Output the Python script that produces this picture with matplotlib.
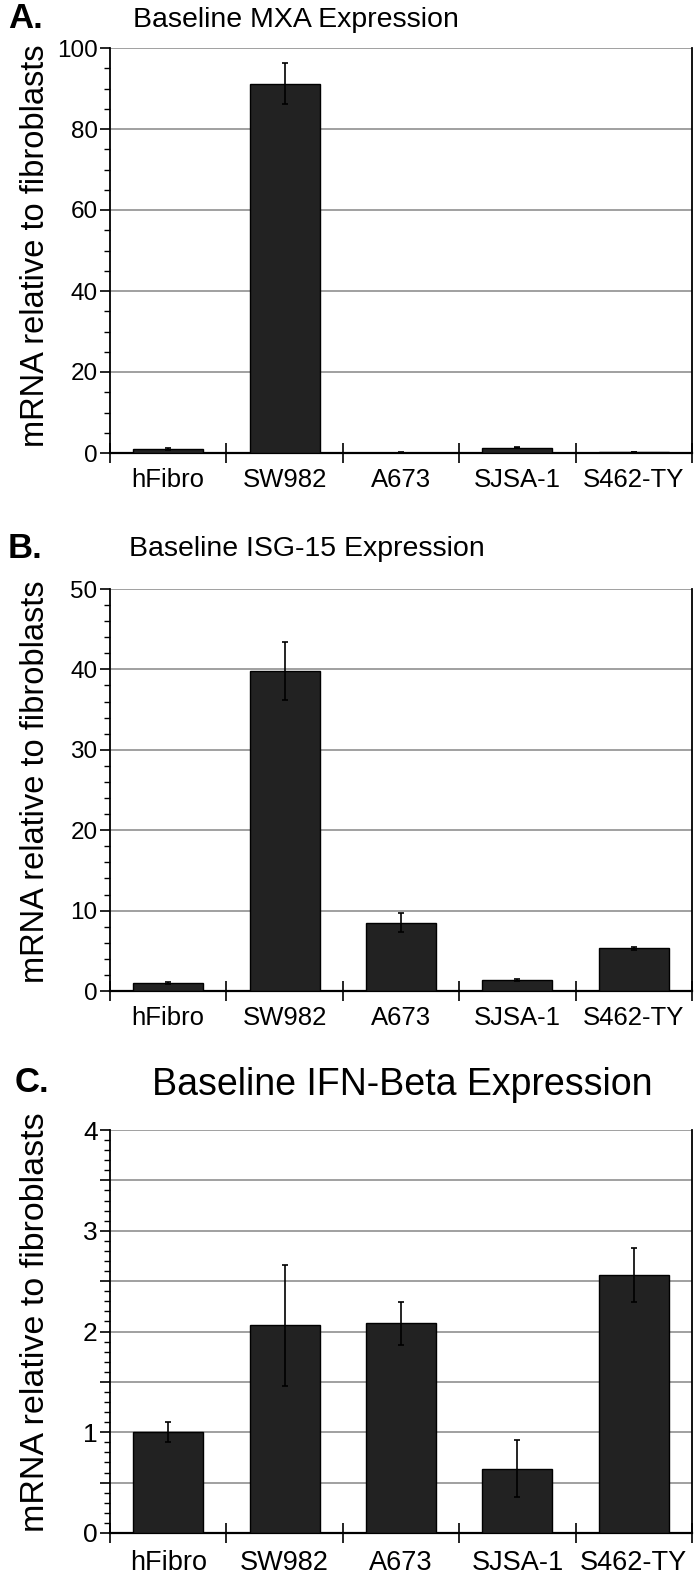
import matplotlib
matplotlib.use("Agg")
import matplotlib.pyplot as plt
from matplotlib.ticker import MultipleLocator, FixedLocator, FuncFormatter

categories = ["hFibro", "SW982", "A673", "SJSA-1", "S462-TY"]

mxa_values = [1.0, 91.2, 0.1, 1.3, 0.3]
mxa_errors = [0.15, 5.0, 0.05, 0.15, 0.05]

isg15_values = [1.0, 39.8, 8.5, 1.4, 5.3]
isg15_errors = [0.1, 3.6, 1.2, 0.15, 0.2]

ifnb_values = [1.0, 2.06, 2.08, 0.64, 2.56]
ifnb_errors = [0.1, 0.6, 0.21, 0.28, 0.27]

titles = ["Baseline MXA Expression", "Baseline ISG-15 Expression", "Baseline IFN-Beta Expression"]
letters = ["A.", "B.", "C."]
ylabel = "mRNA relative to fibroblasts"

W, H = 700, 1576
fig = plt.figure(figsize=(W / 100, H / 100), dpi=100)

REG = ["Liberation Sans", "DejaVu Sans"]

panels = [
    dict(vals=mxa_values, errs=mxa_errors, top=48, bot=453, ymax=100, major=20, minor=5, label_step=20,
         ticksize=18.5, ytsize=17.5, title_size=20.5,
         title_xy=(296, 20), letter_xy=(8, 18), ylab_y=246, ylab_size=23.5, xpad=11),
    dict(vals=isg15_values, errs=isg15_errors, top=589, bot=991, ymax=50, major=10, minor=2, label_step=10,
         ticksize=18.5, ytsize=17.5, title_size=20.5,
         title_xy=(307, 549), letter_xy=(8, 548), ylab_y=782, ylab_size=23.5, xpad=11),
    dict(vals=ifnb_values, errs=ifnb_errors, top=1130, bot=1533, ymax=4, major=0.5, minor=0.1, label_step=1,
         ticksize=19.5, ytsize=19, title_size=27,
         title_xy=(402, 1085), letter_xy=(15, 1082), ylab_y=1322, ylab_size=24.5, xpad=12),
]

left, right = 110, 692
x = list(range(len(categories)))

for i, p in enumerate(panels):
    ax = fig.add_axes([left / W, 1 - p["bot"] / H, (right - left) / W, (p["bot"] - p["top"]) / H])
    ax.set_axisbelow(True)
    ax.bar(x, p["vals"], width=0.6, color="#222222", edgecolor="black", linewidth=1.0, zorder=3)
    ax.errorbar(x, p["vals"], yerr=p["errs"], fmt="none", ecolor="black", elinewidth=1.2,
                capsize=2.5, capthick=1.2, zorder=4)
    ax.set_xlim(-0.5, len(categories) - 0.5)
    ax.set_ylim(0, p["ymax"])

    # y axis
    ax.yaxis.set_major_locator(MultipleLocator(p["major"]))
    ax.yaxis.set_minor_locator(MultipleLocator(p["minor"]))
    step = p["label_step"]
    ax.yaxis.set_major_formatter(FuncFormatter(
        lambda v, pos, s=step: (f"{v:g}" if abs(v / s - round(v / s)) < 1e-6 else "")))
    ax.tick_params(axis="y", which="major", direction="out", length=7, width=1.2, pad=2,
                   labelsize=p["ytsize"])
    ax.tick_params(axis="y", which="minor", direction="out", length=4, width=1.0)
    for lab in ax.get_yticklabels():
        lab.set_fontfamily(REG)

    ax.grid(axis="y", which="major", color="#999999", linewidth=1.3)

    # x axis
    ax.set_xticks(x)
    ax.set_xticklabels(categories, fontsize=p["ticksize"], family=REG)
    ax.xaxis.set_minor_locator(FixedLocator([k - 0.5 for k in range(len(categories) + 1)]))
    ax.tick_params(axis="x", which="major", length=0, pad=p["xpad"])
    ax.tick_params(axis="x", which="minor", direction="inout", length=14, width=1.2)

    for s in ["left", "right"]:
        ax.spines[s].set_linewidth(1.3)
        ax.spines[s].set_color("black")
    ax.spines["bottom"].set_linewidth(1.6)
    ax.spines["top"].set_visible(False)

    tx, ty = p["title_xy"]
    fig.text(tx / W, 1 - ty / H, titles[i], ha="center", va="center",
             fontsize=p["title_size"], family=REG)
    lx, ly = p["letter_xy"]
    fig.text(lx / W, 1 - ly / H, letters[i], ha="left", va="center",
             fontsize=25, fontweight="bold", family=REG)
    fig.text(36 / W, 1 - p["ylab_y"] / H, ylabel, rotation=90, ha="center", va="center",
             fontsize=p["ylab_size"], family=REG)

fig.savefig("out.png", dpi=100)
